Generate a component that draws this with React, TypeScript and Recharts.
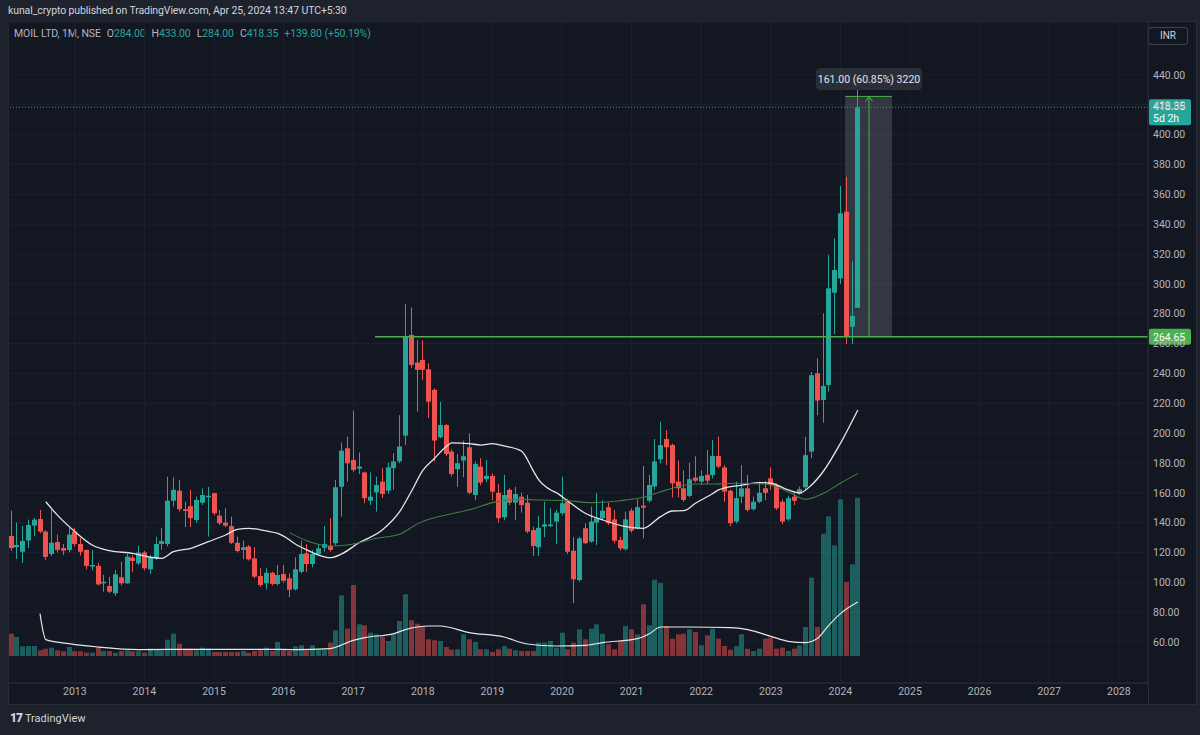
import React from 'react';
import {
  ComposedChart, Bar, Line, XAxis, YAxis, CartesianGrid,
  ReferenceLine, ReferenceArea, ReferenceDot,
} from 'recharts';

// Monthly candles, Feb 2012 .. Apr 2024 (index 1 = Feb 2012)
const opens = [
  131, 123.5, 120.5, 128, 138, 142.4, 134, 119, 127, 123, 121.7, 134, 125.7, 121.7, 110.5, 111, 99.3, 97.5, 92.6, 103.4,
  99.3, 116.5, 112.7, 120, 108.7, 116, 125.7, 125.7, 154.7, 161.4, 149, 151, 141.8, 153.4, 157, 159.7, 144.7, 140, 137.7, 126.5,
  121.7, 124, 116, 104.2, 99.3, 106.4, 98.9, 105.6, 102.7, 95.3, 107, 119.4, 112.3, 118.8, 123.2, 124.3, 126.2, 164, 189.8, 182,
  176.2, 173.6, 154.7, 160.3, 167.5, 161.4, 176.5, 181, 198.3, 265.8, 247.3, 249, 242.8, 229, 197.2, 205.4, 187.6, 175.8, 181.6, 190.5,
  158.5, 177.6, 169.1, 171.3, 160, 143.6, 162, 153.4, 157.4, 153.4, 135, 123.5, 137.3, 137.7, 140.7, 146.3, 154.7, 121.2, 101.5, 136.2,
  127.3, 140, 142.9, 150.3, 142.2, 128.4, 122.2, 148, 136.2, 151.4, 154.7, 164.2, 182.4, 196, 192, 167.5, 163, 157.9, 170.2, 167.5,
  172, 171.9, 184.7, 177, 161.4, 140.7, 157.4, 163, 149, 154, 163, 169.7, 165.2, 154, 142.2, 157.4, 159.2, 163.7, 187.6, 240.1,
  222.2, 232.2, 294.1, 303.7, 348.4, 271.3, 284,
];
const highs = [
  148, 140, 137.7, 142, 143, 148.5, 135, 148.5, 132, 125.7, 136.4, 136.4, 129.7, 122, 121.7, 113, 105, 103.6, 108.3, 113.8,
  119, 118.3, 124.5, 121, 118.3, 130.6, 136.4, 170.8, 170.4, 168.6, 154, 162, 157.4, 163, 164, 160, 148.5, 149.6, 144, 130.6,
  128, 125, 123.5, 109.4, 109.4, 107, 111.6, 111.6, 106, 116.8, 128, 125.7, 121.7, 125, 137.7, 143, 168.6, 193.6, 197.6, 215,
  187, 174.2, 173.6, 170.8, 176.5, 180.2, 186.5, 212, 286.5, 284.3, 262.4, 262, 246.8, 230, 221, 206, 189.2, 186, 195, 199.8,
  181, 183.2, 182, 173, 166, 172, 163, 164, 160, 158.5, 137.3, 144.4, 154, 149.6, 148.5, 170.8, 156, 130.2, 130.6, 139.6,
  150.7, 159.7, 155, 153.4, 148.5, 130.6, 147.4, 149.6, 155.6, 178, 172, 196, 207.6, 202, 193, 181.6, 175, 180.2, 184.5, 175,
  188.7, 195.4, 197.6, 178.6, 162, 167.5, 178.6, 172, 157.4, 167.5, 168, 177, 166.3, 155.6, 158, 160, 164.2, 197.6, 241, 250,
  280.2, 319.4, 330.6, 365.6, 371.8, 315, 433,
];
const lows = [
  121, 115.6, 113, 123, 131, 133, 115, 117.6, 120, 118.3, 120, 124, 118, 108.7, 108, 98, 93.7, 92.8, 91, 98,
  99, 107, 111.6, 108, 105.6, 115, 121.7, 124, 150.7, 147.4, 137, 137, 140, 151.8, 130.6, 145, 138.4, 137, 125.7, 120,
  115.4, 114.6, 102.7, 97, 95.3, 98, 98, 99.7, 90, 94.4, 106, 107, 110, 117.6, 120.5, 120.5, 125, 144, 167.5, 174,
  172.6, 153, 151.8, 147.4, 156.4, 159.2, 162, 179.8, 192, 243.6, 214.4, 235.6, 210, 181, 196.5, 184.7, 170.8, 164, 170.4, 159,
  155, 165, 167, 155, 140, 141.8, 151.8, 141.8, 146.7, 132.8, 117.6, 117.6, 130.2, 137, 125.7, 145, 119, 86, 100.4, 125.7,
  126.5, 125, 141.8, 138.4, 126.2, 121.2, 121.2, 133.3, 135.5, 129.4, 153.4, 162, 179.8, 178.6, 157, 157, 154, 157, 167, 165.2,
  166, 169.7, 176.5, 154, 137.7, 139.6, 153, 147.4, 148, 153, 155, 162, 148.5, 139, 141.2, 151.8, 158.5, 162, 183.2, 212,
  207, 227.8, 266.4, 300, 259.7, 259.7, 284,
];
const closes = [
  123, 125, 127.7, 138.4, 142, 134, 117, 126.5, 121.7, 121.2, 132, 125.7, 120.5, 111, 111.6, 98.6, 100.4, 93.7, 105.4, 99.3,
  117.2, 114.3, 120, 109.4, 116.8, 125.7, 127.7, 154.7, 162, 149, 147.8, 143, 155.2, 158.5, 158, 146.3, 139.6, 138, 126.5, 121,
  123.5, 115.4, 103.8, 98.2, 106.4, 98.9, 104.9, 101, 95, 108.7, 119, 112.3, 119, 122.8, 125.7, 121.7, 163.7, 188.2, 179.8, 175.3,
  177.6, 156.4, 157.4, 165.2, 159.2, 177.1, 181, 191, 264.6, 245.7, 242.4, 242.4, 221, 195, 205.4, 186, 172.6, 179.8, 184.5, 160,
  179.3, 166.9, 171.3, 160.8, 143, 158.5, 153.4, 159.2, 151.8, 134, 124.3, 136.6, 138.8, 138.8, 146.7, 153, 120.5, 102, 129.4, 126.2,
  140.7, 142.9, 148, 139.6, 127.9, 122.8, 142.2, 134.6, 150.3, 150, 165.2, 181, 192, 190.5, 166.3, 163, 155.2, 169.1, 168.1, 171.3,
  168.1, 184.7, 177.6, 160.8, 139.6, 156.4, 163, 148.5, 154, 160, 160, 165.2, 149.6, 140.7, 156.4, 154.7, 162.4, 185.2, 238.8, 221.8,
  231.6, 297, 309.3, 347.3, 264.6, 278.5, 418.35,
];
const volumes = [
  22.3, 19, 9.7, 10, 10, 5.7, 7.3, 8.3, 5.7, 4.7, 9, 4.7, 4.7, 3.3, 3.3, 9, 5, 5, 3.3, 5,
  5.7, 4.7, 4.7, 3.3, 7.3, 6.3, 5.7, 16.3, 22.3, 12.3, 7.3, 7.3, 5.7, 8.3, 7.3, 4, 4, 4, 4, 4,
  5, 3.3, 5, 5.7, 8.3, 5, 14, 5.7, 5, 9.7, 10.7, 5.7, 10.7, 6.3, 6.3, 13.3, 25.7, 60.7, 27.3, 71,
  31.7, 30.7, 23.3, 21.7, 19, 15, 21.7, 35, 61.7, 35.7, 32.3, 29.7, 16.7, 15.7, 15, 9, 6.3, 6.7, 21.7, 16.7,
  14, 6.7, 6.7, 4, 6.7, 10, 7.3, 5.7, 5, 5, 5, 13.3, 13.3, 15, 8.3, 23.3, 6.7, 13.3, 26.7, 16.7,
  27.3, 31.7, 22.3, 11.7, 6.7, 15, 30, 26.7, 21.7, 51.7, 30.7, 76.3, 73, 30, 17.3, 21.7, 22.3, 26.7, 24, 10.7,
  20.7, 27.3, 17.3, 10, 6.3, 10, 21.7, 7.3, 5, 7.3, 17.3, 18.3, 7.3, 8.3, 5, 7.3, 10.7, 29, 78.3, 29,
  122.3, 139.7, 110.7, 156.7, 74, 91.7, 158.3,
];

// Moving averages: [candle index, value]
const fastMa: [number, number][] = [
  [7, 154], [9, 145], [12, 134], [15, 125], [18, 121.2], [22, 119.4], [25, 116.8], [27, 116.1], [29, 120.5], [32, 122.8],
  [35, 127.2], [38, 131.7], [40, 135.5], [42, 136.2], [45, 134.4], [47, 132.8], [48, 131], [50, 125.7], [52, 121.7], [54, 118.3],
  [56, 116.5], [58, 119], [61, 126.5], [65, 135], [68, 147.3], [70, 160.7], [72, 175], [74, 183], [76, 190.8], [77, 193.5],
  [80, 193], [82, 192], [84, 193], [86, 191.4], [89, 188], [90, 182.5], [91, 175], [92, 168.6], [94, 162], [95, 160.1],
  [97, 154.5], [100, 146.3], [103, 141.8], [107, 137.3], [110, 136.2], [113, 144], [115, 147.8], [117, 148], [119, 153], [120, 155.2],
  [122, 159.5], [123, 161.9], [127, 165.2], [130, 166.8], [132, 166.4], [135, 161.9], [137, 160], [139, 165.2], [141, 174.1], [144, 193.1],
  [147, 215.5],
];
const slowMa: [number, number][] = [
  [49, 133.3], [52, 127.9], [56, 124.3], [59, 125], [64, 129.5], [68, 132.2], [71, 139], [73, 142.2], [76, 145.1], [81, 149.6],
  [84, 153.4], [89, 155.6], [92, 155.2], [97, 154.7], [101, 153.4], [106, 154.7], [110, 157], [113, 160.7], [116, 164.1], [119, 165.9],
  [122, 165.9], [126, 166.4], [131, 165.9], [135, 160.7], [138, 155.6], [141, 159.5], [144, 166.4], [147, 173],
];
const volMa: [number, number][] = [
  [6, 42.4], [7, 16.4], [11, 12.4], [16, 9], [23, 6.4], [34, 6.7], [45, 6.7], [50, 6.4], [56, 7.4], [60, 15.7],
  [62, 18.4], [67, 22.4], [69, 26.4], [71, 29], [73, 30], [75, 30], [80, 23.4], [86, 19], [90, 12], [95, 10],
  [100, 10.7], [103, 13.4], [109, 17.4], [111, 22], [113, 29], [118, 29], [125, 28.4], [128, 26.4], [132, 19.7], [135, 14.7],
  [138, 13.4], [140, 17.4], [142, 30.7], [144, 42.4], [147, 54],
];

const yearLabels = ['2013', '2014', '2015', '2016', '2017', '2018', '2019', '2020', '2021', '2022', '2023', '2024', '2025', '2026', '2027', '2028'];
const yearTicks = yearLabels.map((_, k) => 12 + 12 * k); // January of each year
const priceTicks = [60, 80, 100, 120, 140, 160, 180, 200, 220, 240, 260, 280, 300, 320, 340, 360, 380, 400, 420, 440];

const LAST_PRICE = 418.35;
const BREAKOUT = 264.65;
const MEASURE_TOP = 425.65;
const MEASURE_LABEL = '161.00 (60.85%) 3220';

const UP = '#26a69a';
const DOWN = '#ef5350';
const BG = '#131722';
const TXT = '#b2b5be';
const FONT = 'Roboto, "Noto Sans", sans-serif';

const X0 = 0.4828;
const X1 = 197.03;

type Row = { i: number; o?: number; h?: number; l?: number; c?: number; v?: number; ma1?: number; ma2?: number; vma?: number };

const data: Row[] = opens.map((o, k) => ({ i: k + 1, o, h: highs[k], l: lows[k], c: closes[k], v: volumes[k] }));
fastMa.forEach(([i, v]) => { data[i - 1].ma1 = v; });
slowMa.forEach(([i, v]) => { data[i - 1].ma2 = v; });
volMa.forEach(([i, v]) => { data[i - 1].vma = v; });

const Candle = (props: any) => {
  const { x, y, width, height, payload } = props;
  if (!payload || x == null) return null;
  const { o, h, l, c } = payload;
  const top = Math.min(y, y + height);
  const H = Math.abs(height);
  const k = h - l > 0 ? H / (h - l) : 0;
  const color = c >= o ? UP : DOWN;
  const bodyTop = top + (h - Math.max(o, c)) * k;
  const bodyH = Math.max(1, Math.abs(o - c) * k);
  const cx = Math.round(x + width / 2) + 0.5;
  return (
    <g>
      <line x1={cx} x2={cx} y1={top} y2={top + H} stroke={color} strokeWidth={1} />
      <rect x={cx - 2.5} y={bodyTop} width={5} height={bodyH} fill={color} />
    </g>
  );
};

const VolBar = (props: any) => {
  const { x, y, width, height, payload } = props;
  if (!payload || x == null) return null;
  const top = Math.min(y, y + height);
  const cx = Math.round(x + width / 2);
  return <rect x={cx - 2} y={top} width={5} height={Math.abs(height)} fill={payload.c >= payload.o ? 'rgba(38,166,154,0.5)' : 'rgba(239,83,80,0.5)'} />;
};

const lastBadge = (p: any) => {
  const vb = p.viewBox || {};
  const x = vb.x + vb.width + 1;
  const y = vb.y;
  return (
    <g>
      <rect x={x} y={y - 8} width={42} height={26} rx={2} fill={UP} />
      <text x={x + 4} y={y + 3} fill="#ffffff" fontSize={10.5} fontFamily={FONT}>{LAST_PRICE.toFixed(2)}</text>
      <text x={x + 4} y={y + 15} fill="#ffffff" fontSize={10.5} fontFamily={FONT}>5d 2h</text>
    </g>
  );
};

const breakoutBadge = (p: any) => {
  const vb = p.viewBox || {};
  const x = vb.x + vb.width + 1;
  const y = vb.y;
  return (
    <g>
      <rect x={x} y={y - 8} width={42} height={16} rx={2} fill="#4caf50" />
      <text x={x + 4} y={y + 4} fill="#ffffff" fontSize={10.5} fontFamily={FONT}>{BREAKOUT.toFixed(2)}</text>
    </g>
  );
};

export default function App() {
  return (
    <div style={{ position: 'absolute', left: 0, top: 0, width: 1200, height: 735, background: '#1e222d', fontFamily: FONT, overflow: 'hidden' }}>
      <div style={{ position: 'absolute', left: 8, top: 21, width: 1189, height: 684, background: BG, border: '1px solid #2a2e39', boxSizing: 'border-box' }} />
      <div style={{ position: 'absolute', left: 8, top: 4, fontSize: 10.5, color: '#d1d4dc', whiteSpace: 'nowrap', letterSpacing: -0.1 }}>
        kunal_crypto published on TradingView.com, Apr 25, 2024 13:47 UTC+5:30
      </div>
      <div style={{ position: 'absolute', left: 14, top: 27, fontSize: 10.5, color: TXT, whiteSpace: 'nowrap', letterSpacing: -0.1 }}>
        <span style={{ color: '#b2b5be' }}>MOIL LTD, 1M, NSE</span>
        <span style={{ marginLeft: 6 }}>O</span><span style={{ color: UP }}>284.00</span>
        <span style={{ marginLeft: 6 }}>H</span><span style={{ color: UP }}>433.00</span>
        <span style={{ marginLeft: 6 }}>L</span><span style={{ color: UP }}>284.00</span>
        <span style={{ marginLeft: 6 }}>C</span><span style={{ color: UP }}>418.35</span>
        <span style={{ marginLeft: 6, color: UP }}>+139.80 (+50.19%)</span>
      </div>
      <div style={{ position: 'absolute', left: 1148, top: 27, width: 40, height: 18, border: '1px solid #434651', borderRadius: 3, boxSizing: 'border-box', color: '#d1d4dc', fontSize: 10, textAlign: 'center', lineHeight: '16px' }}>INR</div>
      <div style={{ position: 'absolute', left: 1148, top: 683, width: 1, height: 22, background: '#2a2e39' }} />
      <div style={{ position: 'absolute', left: 0, top: 0 }}>
        <ComposedChart width={1200} height={735} data={data} margin={{ top: 22, right: 3, bottom: 30, left: 8 }}>
          <CartesianGrid xAxisId="x" yAxisId="p" stroke="#1c2030" strokeWidth={1} />
          <XAxis xAxisId="x" dataKey="i" type="number" domain={[X0, X1]} allowDataOverflow ticks={yearTicks}
            tickFormatter={(v: number) => yearLabels[Math.round((v - 12) / 12)] ?? ''}
            height={22} tickLine={false} tickSize={2} tickMargin={3} axisLine={{ stroke: '#2a2e39' }}
            tick={{ fill: TXT, fontSize: 10.5, fontFamily: FONT }} interval={0} />
          <XAxis xAxisId="xv" dataKey="i" type="number" domain={[X0, X1]} allowDataOverflow hide />
          <YAxis yAxisId="p" orientation="right" type="number" domain={[32.52, 475.52]} allowDataOverflow ticks={priceTicks}
            width={49} tickLine={false} tickSize={3} tickMargin={2} axisLine={{ stroke: '#2a2e39' }}
            tickFormatter={(v: number) => v.toFixed(2)} interval={0}
            tick={{ fill: TXT, fontSize: 10.5, fontFamily: FONT, textAnchor: 'start' }} />
          <YAxis yAxisId="v" type="number" domain={[-27, 634]} allowDataOverflow hide />

          <Bar xAxisId="xv" yAxisId="v" dataKey="v" barSize={5} shape={VolBar} isAnimationActive={false} />
          <Line xAxisId="xv" yAxisId="v" dataKey="vma" type="monotone" stroke="#e6e6e6" strokeWidth={1.2} dot={false} connectNulls isAnimationActive={false} />

          <ReferenceArea xAxisId="x" yAxisId="p" x1={144.8} x2={152.9} y1={BREAKOUT} y2={MEASURE_TOP} fill="#9598a1" fillOpacity={0.25} stroke="none" ifOverflow="visible" />

          <Bar xAxisId="x" yAxisId="p" dataKey={(d: Row) => [d.l, d.h]} barSize={5} shape={Candle} isAnimationActive={false} />
          <Line xAxisId="x" yAxisId="p" dataKey="ma1" type="monotone" stroke="#e6e6e6" strokeWidth={1.3} dot={false} connectNulls isAnimationActive={false} />
          <Line xAxisId="x" yAxisId="p" dataKey="ma2" type="monotone" stroke="#3f7f42" strokeWidth={1.1} dot={false} connectNulls isAnimationActive={false} />

          <ReferenceLine xAxisId="x" yAxisId="p" y={LAST_PRICE} stroke={UP} strokeDasharray="1 2" strokeWidth={1} label={lastBadge} />
          <ReferenceLine xAxisId="x" yAxisId="p" segment={[{ x: 63.76, y: BREAKOUT }, { x: X1, y: BREAKOUT }]} stroke="#4caf50" strokeWidth={1.5} ifOverflow="visible" />
          <ReferenceLine xAxisId="x" yAxisId="p" y={BREAKOUT} stroke="none" label={breakoutBadge} />
          <ReferenceLine xAxisId="x" yAxisId="p" segment={[{ x: 144.8, y: MEASURE_TOP }, { x: 152.9, y: MEASURE_TOP }]} stroke="#4caf50" strokeWidth={1} ifOverflow="visible" />
          <ReferenceLine xAxisId="x" yAxisId="p" segment={[{ x: 148.93, y: BREAKOUT }, { x: 148.93, y: MEASURE_TOP }]} stroke="#4caf50" strokeWidth={1} ifOverflow="visible" />
          <ReferenceDot xAxisId="x" yAxisId="p" x={148.93} y={MEASURE_TOP} r={0} ifOverflow="visible"
            shape={(p: any) => <path d={`M${p.cx - 3.5},${p.cy + 5} L${p.cx},${p.cy} L${p.cx + 3.5},${p.cy + 5}`} stroke="#4caf50" fill="none" strokeWidth={1} />} />
          <ReferenceDot xAxisId="x" yAxisId="p" x={148.93} y={437.3} r={0} ifOverflow="visible"
            shape={(p: any) => (
              <g>
                <rect x={p.cx - 53} y={p.cy - 11} width={106} height={22} rx={4} fill="#2a2e39" />
                <text x={p.cx} y={p.cy + 4} textAnchor="middle" fill="#e0e3eb" fontSize={10.5} fontFamily={FONT}>{MEASURE_LABEL}</text>
              </g>
            )} />
        </ComposedChart>
      </div>
      <div style={{ position: 'absolute', left: 10, top: 711, fontSize: 11, color: '#d1d4dc', whiteSpace: 'nowrap', display: 'flex', alignItems: 'center' }}>
        <span style={{ fontWeight: 900, fontSize: 12, marginRight: 3, letterSpacing: -1 }}>17</span>
        <span>TradingView</span>
      </div>
    </div>
  );
}
